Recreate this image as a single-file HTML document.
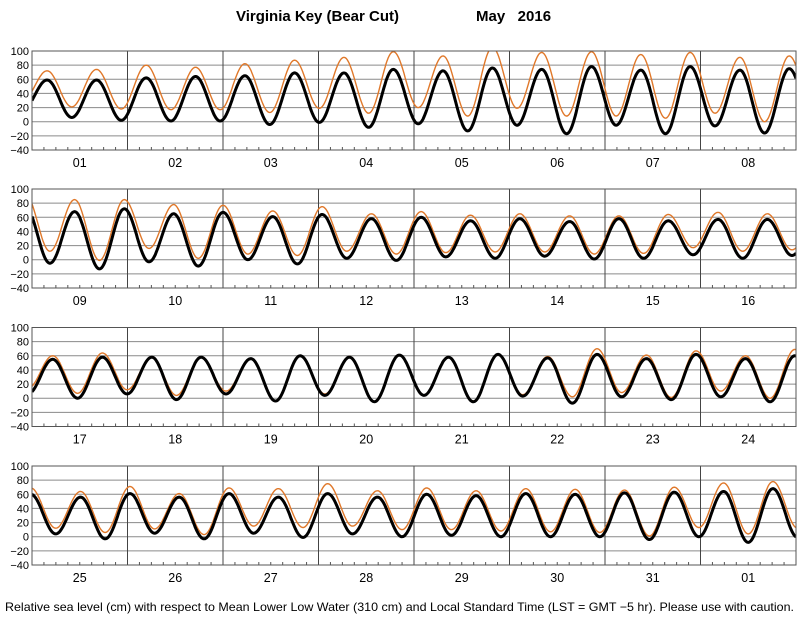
<!DOCTYPE html>
<html><head><meta charset="utf-8">
<style>
body{margin:0;background:#fff;}
svg{display:block;font-family:"Liberation Sans",Arial,sans-serif;}
</style></head>
<body>
<svg id="chart" width="800" height="618" viewBox="0 0 800 618" xmlns="http://www.w3.org/2000/svg">
<text x="236" y="21" font-size="15" font-weight="bold" textLength="163">Virginia Key (Bear Cut)</text>
<text x="476" y="21" font-size="15" font-weight="bold">May&#160;&#160;&#160;2016</text>
<text x="5" y="611" font-size="12" textLength="789" lengthAdjust="spacingAndGlyphs">Relative sea level (cm) with respect to Mean Lower Low Water (310 cm) and Local Standard Time (LST = GMT −5 hr). Please use with caution.</text>
</svg>
<script>
const dayLabels = ["01","02","03","04","05","06","07","08","09","10","11","12","13","14","15","16","17","18","19","20","21","22","23","24","25","26","27","28","29","30","31","01"];
const yTicks = [100,80,60,40,20,0,-20,-40];
const highTimes = [3.8,16.2,28.7,41.1,53.5,66.0,78.4,90.8,103.3,115.7,128.1,140.6,153.0,165.4,177.9,190.3,202.7,215.2,227.6,240.0,252.5,264.9,277.3,289.8,302.2,314.6,327.1,339.5,351.9,364.4,376.8,389.2,401.7,414.1,426.5,439.0,451.4,463.8,476.3,488.7,501.1,513.6,526.0,538.4,550.9,563.3,575.7,588.2,600.6,613.0,625.5,637.9,650.3,662.8,675.2,687.6,700.1,712.5,724.9,737.4,749.8,762.2];
const predHigh = [59,59,62,64,65,69,69,74,72,76,74,78,73,78,73,75,68,72,65,67,61,64,58,60,55,58,54,58,55,57,57,55,58,58,58,56,60,58,61,58,62,57,62,56,62,56,60,56,61,56,61,56,61,56,60,58,61,60,62,63,64,68];
const obsHigh = [72,74,80,77,82,87,91,99,93,105,98,99,95,98,91,93,85,85,78,77,69,75,65,68,63,65,62,62,64,67,65,60,64,58,58,56,60,59,61,58,62,59,70,61,67,60,69,64,71,61,69,68,75,65,69,65,68,67,66,70,76,78];
const predLow = [16,6,2,1,1,-4,-1,-8,-3,-13,-5,-17,-5,-17,-6,-16,-5,-13,-3,-9,0,-6,2,-1,4,2,5,1,2,7,2,6,0,6,-2,6,-4,4,-5,4,-5,3,-7,2,-2,2,-5,4,-3,5,-3,5,-1,4,0,2,0,0,0,-4,0,-8,-1];
const obsLow = [29,21,18,17,17,13,19,12,20,8,19,8,8,5,12,0,12,-1,16,2,8,6,12,8,10,11,11,8,9,17,12,14,7,12,4,10,-4,6,-5,5,-4,5,2,8,1,10,0,12,6,11,3,15,13,15,10,10,8,7,6,1,13,4,12];

const NS="http://www.w3.org/2000/svg";
const svg=document.getElementById('chart');
const X0=32, X1=796, PH=99, panelTops=[51,189,327.5,466], DAYS=8;
const dayW=(X1-X0)/DAYS;
function mk(tag,attrs,parent){const e=document.createElementNS(NS,tag);for(const k in attrs)e.setAttribute(k,attrs[k]);(parent||svg).appendChild(e);return e;}

function extrema(highs,lows){
  const pts=[];
  pts.push([highTimes[0]-6.2,lows[0]]);
  for(let i=0;i<highTimes.length;i++){
    pts.push([highTimes[i],highs[i]]);
    const next=i+1<highTimes.length?highTimes[i+1]:highTimes[i]+12.42;
    pts.push([(highTimes[i]+next)/2,lows[i+1]]);
  }
  return pts;
}
function valueAt(pts,t){
  for(let i=0;i<pts.length-1;i++){
    if(t>=pts[i][0]&&t<=pts[i+1][0]){
      const f=(t-pts[i][0])/(pts[i+1][0]-pts[i][0]);
      return pts[i][1]+(pts[i+1][1]-pts[i][1])*(1-Math.cos(Math.PI*f))/2;
    }
  }
  return pts[pts.length-1][1];
}
const predPts=extrema(predHigh,predLow), obsPts=extrema(obsHigh,obsLow);

panelTops.forEach((top,p)=>{
  const g=mk('g',{});
  
  
  const yS=v=>top+(100-v)/140*PH;
  const xS=h=>X0+(h-p*DAYS*24)/24*dayW;
  yTicks.forEach(v=>{
    const ln=mk('line',{x1:X0,x2:X1,y1:yS(v),y2:yS(v),stroke:'#8a8a8a','stroke-width':1},g);
    
    
    const t=mk('text',{x:29,y:yS(v)+4,'font-size':11,'text-anchor':'end'},g);
    
    
    t.textContent=v<0?'−'+(-v):String(v);
  });
  for(let d=0;d<=DAYS;d++){
    const x=X0+d*dayW;
    const ln=mk('line',{x1:x,x2:x,y1:top,y2:top+PH,stroke:d==0||d==DAYS?'#555':'#444','stroke-width':1},g);
    
    
    if(d<DAYS){
      for(let h=1;h<8;h++){
        const tx=x+h*dayW/8;
        const tk=mk('line',{x1:tx,x2:tx,y1:top+PH-3,y2:top+PH,stroke:'#555','stroke-width':1},g);
        
        
      }
      const lb=mk('text',{x:x+dayW/2,y:top+PH+17,'font-size':12.5,'text-anchor':'middle'},g);
      
      
      lb.textContent=dayLabels[p*DAYS+d];
    }
  }
  const clipId='clip'+p;
  const cp=mk('clipPath',{id:clipId},g);
  mk('rect',{x:X0,y:top,width:X1-X0,height:PH},cp);
  function series(pts,color,w,name){
    let dstr='';
    for(let h=p*DAYS*24;h<=(p+1)*DAYS*24;h+=0.25){
      dstr+=(dstr?'L':'M')+xS(h).toFixed(1)+','+yS(valueAt(pts,h)).toFixed(1);
    }
    const path=mk('path',{d:dstr,fill:'none',stroke:color,'stroke-width':w,'clip-path':'url(#'+clipId+')','stroke-linejoin':'round'},g);
    
    
  }
  series(obsPts,'#e0782a',1.4,'observed-line');
  series(predPts,'#000',3,'predicted-line');
  const fr=mk('rect',{x:X0,y:top,width:X1-X0,height:PH,fill:'none',stroke:'#555','stroke-width':1},g);
  
  
});
</script>
</body></html>
